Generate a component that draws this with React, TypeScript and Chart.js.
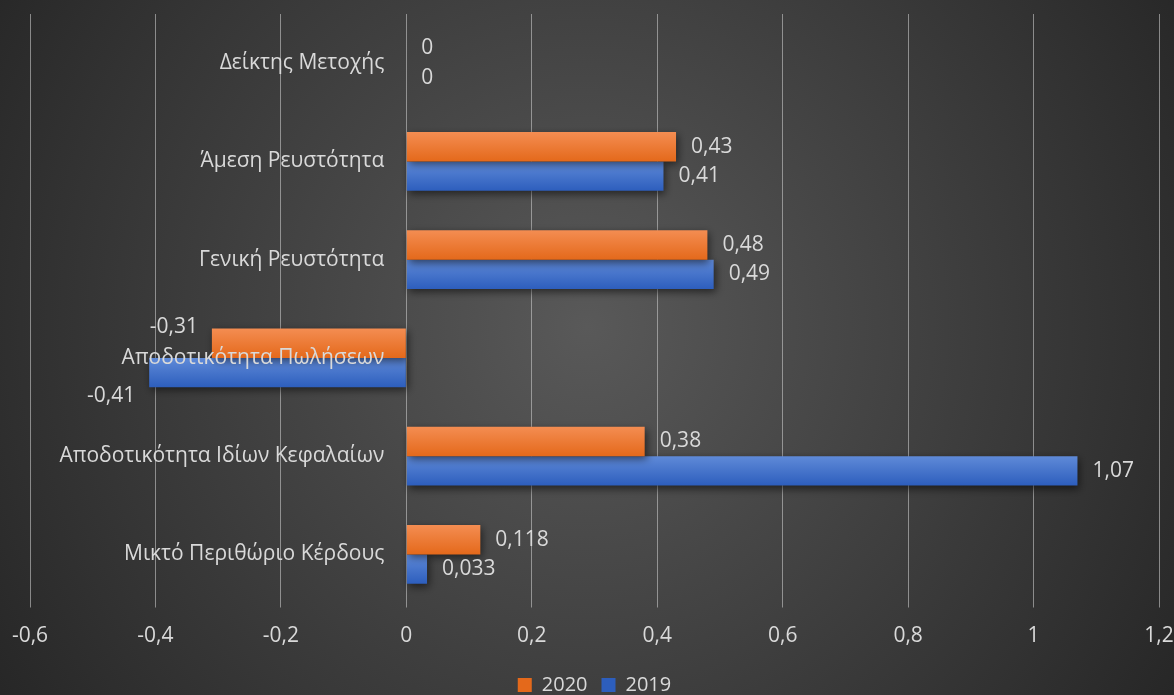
import { useEffect, useRef } from 'react';
import { Chart, registerables } from 'chart.js';

Chart.register(...registerables);

const categories = [
  'Δείκτης Μετοχής',
  'Άμεση Ρευστότητα',
  'Γενική Ρευστότητα',
  'Αποδοτικότητα Πωλήσεων',
  'Αποδοτικότητα Ιδίων Κεφαλαίων',
  'Μικτό Περιθώριο Κέρδους',
];
const seriesLabels = ['2020', '2019'];
const values2020 = [0, 0.43, 0.48, -0.31, 0.38, 0.118];
const values2019 = [0, 0.41, 0.49, -0.41, 1.07, 0.033];
const xMin = -0.6;
const xMax = 1.2;
const xStep = 0.2;

const FONT = "'Open Sans', 'DejaVu Sans', sans-serif";
const TEXT = '#d9d9d9';
const GAP = 0.6; // category fill ratio

const fmt = (v: number) => String(Math.round(v * 1000) / 1000).replace('.', ',');

function barGradient(ctx: any, top: string, bottom: string) {
  const chart = ctx.chart;
  const area = chart.chartArea;
  if (!area || ctx.type !== 'data') return top;
  const yScale = chart.scales.y;
  const c = yScale.getPixelForValue(ctx.dataIndex);
  const band = (area.bottom - area.top) / categories.length;
  const h = (band * GAP) / 2;
  const y0 = ctx.datasetIndex === 0 ? c - h : c;
  const g = chart.ctx.createLinearGradient(0, y0, 0, y0 + h);
  g.addColorStop(0, top);
  g.addColorStop(1, bottom);
  return g;
}

const backgroundPlugin = {
  id: 'bgGradient',
  beforeDraw(chart: any) {
    const { ctx, width, height } = chart;
    ctx.save();
    const g = ctx.createRadialGradient(width * 0.5, height * 0.47, 0, width * 0.5, height * 0.47, width * 0.6);
    g.addColorStop(0, '#595959');
    g.addColorStop(1, '#262626');
    ctx.fillStyle = g;
    ctx.fillRect(0, 0, width, height);
    ctx.restore();
  },
};

const shadowPlugin = {
  id: 'barShadow',
  beforeDatasetsDraw(chart: any) {
    const ctx = chart.ctx;
    ctx.save();
    ctx.shadowColor = 'rgba(0,0,0,0.55)';
    ctx.shadowBlur = 8;
    ctx.shadowOffsetX = 2;
    ctx.shadowOffsetY = 3;
  },
  afterDatasetsDraw(chart: any) {
    chart.ctx.restore();
  },
};

const labelsPlugin = {
  id: 'labelsOverlay',
  afterDatasetsDraw(chart: any) {
    const { ctx } = chart;
    const xScale = chart.scales.x;
    const yScale = chart.scales.y;
    const zeroX = xScale.getPixelForValue(0);
    ctx.save();
    ctx.fillStyle = TEXT;
    ctx.textBaseline = 'middle';
    // category labels beside the zero axis
    ctx.font = `21px ${FONT}`;
    ctx.textAlign = 'right';
    categories.forEach((c, i) => {
      ctx.fillText(c, zeroX - 22, yScale.getPixelForValue(i));
    });
    // value labels
    chart.data.datasets.forEach((ds: any, di: number) => {
      const meta = chart.getDatasetMeta(di);
      meta.data.forEach((bar: any, i: number) => {
        const v = ds.data[i];
        const txt = fmt(v);
        if (v >= 0) {
          ctx.textAlign = 'left';
          ctx.fillText(txt, bar.x + 15, bar.y);
        } else {
          ctx.textAlign = 'right';
          ctx.fillText(txt, bar.x - 14, bar.y + (di === 0 ? -16 : 23));
        }
      });
    });
    ctx.restore();
  },
};

export default function App() {
  const canvasRef = useRef<HTMLCanvasElement | null>(null);

  useEffect(() => {
    const canvas = canvasRef.current;
    if (!canvas) return;
    const chart = new Chart(canvas, {
      type: 'bar',
      data: {
        labels: categories,
        datasets: [
          {
            label: seriesLabels[0],
            data: values2020,
            backgroundColor: (c: any) => barGradient(c, '#f48d52', '#e4691b'),
            borderWidth: 0,
            barPercentage: 1,
            categoryPercentage: GAP,
          },
          {
            label: seriesLabels[1],
            data: values2019,
            backgroundColor: (c: any) => barGradient(c, '#5f8ad8', '#2d5ebd'),
            borderWidth: 0,
            barPercentage: 1,
            categoryPercentage: GAP,
          },
        ],
      },
      options: {
        indexAxis: 'y',
        responsive: false,
        animation: false,
        maintainAspectRatio: false,
        layout: { padding: { top: 14, left: 30, right: 15, bottom: -10 } },
        scales: {
          x: {
            type: 'linear',
            min: xMin,
            max: xMax,
            border: { display: false },
            grid: { color: 'rgba(200,200,200,0.6)', lineWidth: 1, tickLength: 4 },
            ticks: {
              stepSize: xStep,
              color: TEXT,
              padding: 16,
              font: { family: FONT, size: 21 },
              callback: (v: any) => fmt(Number(v)),
            },
            afterFit: (s: any) => {
              s.height = 57.5;
              s.paddingLeft = 0;
              s.paddingRight = 0;
            },
          },
          y: {
            type: 'category',
            display: false,
            grid: { display: false },
          },
        },
        plugins: {
          legend: {
            position: 'bottom',
            fullSize: false,
            labels: {
              color: TEXT,
              boxWidth: 14,
              boxHeight: 14,
              padding: 14,
              font: { family: FONT, size: 20 },
            },
          },
          tooltip: { enabled: false },
        },
      },
      plugins: [backgroundPlugin, shadowPlugin, labelsPlugin],
    });
    return () => chart.destroy();
  }, []);

  return (
    <div style={{ position: 'absolute', left: 0, top: 0, width: 1174, height: 695 }}>
      <canvas ref={canvasRef} width={1174} height={695} style={{ display: 'block' }} />
    </div>
  );
}
